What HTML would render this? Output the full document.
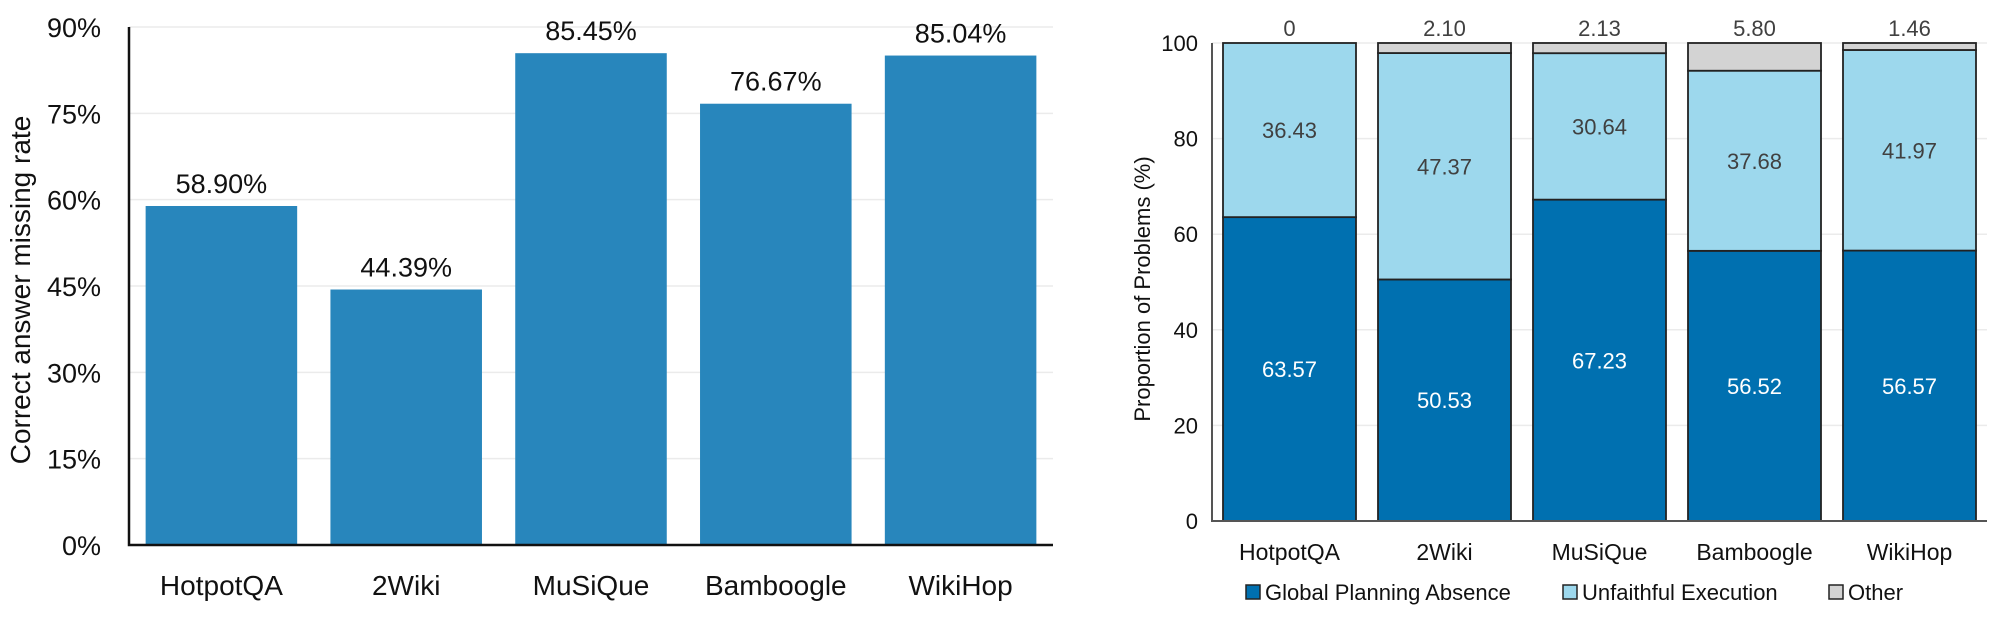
<!DOCTYPE html>
<html><head><meta charset="utf-8"><style>
html,body{margin:0;padding:0;background:#fff;}
svg{display:block;font-family:"Liberation Sans",sans-serif;}
</style></head><body>
<svg id="c" width="2002" height="622" xmlns="http://www.w3.org/2000/svg">
<g id="left"></g>
<g id="right"></g>
</svg>
<script>
const categories = ["HotpotQA","2Wiki","MuSiQue","Bamboogle","WikiHop"];
const missingRate = [58.90, 44.39, 85.45, 76.67, 85.04];
const leftTicks = [0,15,30,45,60,75,90];
const globalPlanning = [63.57, 50.53, 67.23, 56.52, 56.57];
const unfaithful = [36.43, 47.37, 30.64, 37.68, 41.97];
const other = [0, 2.10, 2.13, 5.80, 1.46];
const rightTicks = [0,20,40,60,80,100];
const legendLabels = ["Global Planning Absence","Unfaithful Execution","Other"];

const NS="http://www.w3.org/2000/svg";
function mk(parent,tag,attrs,text){const e=document.createElementNS(NS,tag);for(const k in attrs)e.setAttribute(k,attrs[k]);if(text!==undefined)e.textContent=text;parent.appendChild(e);return e;}

// Left chart
const L=document.getElementById('left');
const lx0=129,lx1=1053,ly0=545,ly1=27;
const lY=v=>ly0-(v/90)*(ly0-ly1);
const lSlot=(lx1-lx0)/categories.length;
const lX=i=>lx0+lSlot*i;
leftTicks.forEach(t=>{
  if(t>0){const g=mk(L,'line',{x1:lx0,x2:lx1,y1:lY(t),y2:lY(t),stroke:'#ebebeb','stroke-width':1.5});
  
  }
  const tl=mk(L,'text',{x:lx0-28,y:lY(t)+10,'text-anchor':'end','font-size':27,fill:'#111'},t+'%');
  
  
});
categories.forEach((c,i)=>{
  const bw=lSlot*0.82, bx=lX(i)+(lSlot-bw)/2, v=missingRate[i];
  const r=mk(L,'rect',{x:bx,y:lY(v),width:bw,height:ly0-lY(v),fill:'#2886bc'});
  
  
  const vl=mk(L,'text',{x:bx+bw/2,y:lY(v)-13,'text-anchor':'middle','font-size':27,fill:'#111'},v.toFixed(2)+'%');
  
  
  const xl=mk(L,'text',{x:bx+bw/2,y:595,'text-anchor':'middle','font-size':28,fill:'#111'},c);
  
  
});
const la=mk(L,'path',{d:`M${lx0} ${ly1} V${ly0} H${lx1}`,fill:'none',stroke:'#111','stroke-width':2.5});


const lt=mk(L,'text',{transform:'translate(30,290) rotate(-90)','text-anchor':'middle','font-size':28,fill:'#111'},'Correct answer missing rate');



// Right chart
const R=document.getElementById('right');
const rx0=1212,rx1=1987,ry0=521,ry1=43;
const rY=v=>ry0-(v/100)*(ry0-ry1);
const rSlot=(rx1-rx0)/categories.length;
const rX=i=>rx0+rSlot*i;
rightTicks.forEach(t=>{
  if(t>0){const g=mk(R,'line',{x1:rx0,x2:rx1,y1:rY(t),y2:rY(t),stroke:'#ebebeb','stroke-width':1.5});
  
  }
  const tl=mk(R,'text',{x:rx0-14,y:rY(t)+8,'text-anchor':'end','font-size':22,fill:'#111'},t);
  
  
});
const cols=['#0070b0','#9dd8ed','#d3d3d3'];
const series=[globalPlanning,unfaithful,other];
categories.forEach((c,i)=>{
  const bw=rSlot-22, bx=rX(i)+11;
  let acc=0;
  series.forEach((s,k)=>{
    const v=s[i], y0=rY(acc), y1=rY(acc+v);
    if(v>0){
      const r=mk(R,'rect',{x:bx,y:y1,width:bw,height:y0-y1,fill:cols[k],stroke:'#222','stroke-width':1.8});
      
      
    }
    let ty = k<2 ? (y0+y1)/2+8 : rY(100)-7;
    const tx=mk(R,'text',{x:bx+bw/2,y:ty,'text-anchor':'middle','font-size':22,fill:k==0?'#fff':'#404040'},k==2&&v==0?'0':v.toFixed(2));
    
    
    acc+=v;
  });
  const xl=mk(R,'text',{x:bx+bw/2,y:560,'text-anchor':'middle','font-size':23,fill:'#111'},c);
  
  
});
const ra=mk(R,'path',{d:`M${rx0} ${ry1} V${ry0} H${rx1}`,fill:'none',stroke:'#555','stroke-width':2});


const rt=mk(R,'text',{transform:'translate(1150,289) rotate(-90)','text-anchor':'middle','font-size':22,fill:'#111'},'Proportion of Problems (%)');


const legX=[1246,1563,1829];
legendLabels.forEach((t,k)=>{
  const sq=mk(R,'rect',{x:legX[k],y:585,width:14,height:14,fill:cols[k],stroke:'#222','stroke-width':1.5});
  
  
  const lt=mk(R,'text',{x:legX[k]+19,y:600,'font-size':22,fill:'#111'},t);
  
  
});
</script>
</body></html>
